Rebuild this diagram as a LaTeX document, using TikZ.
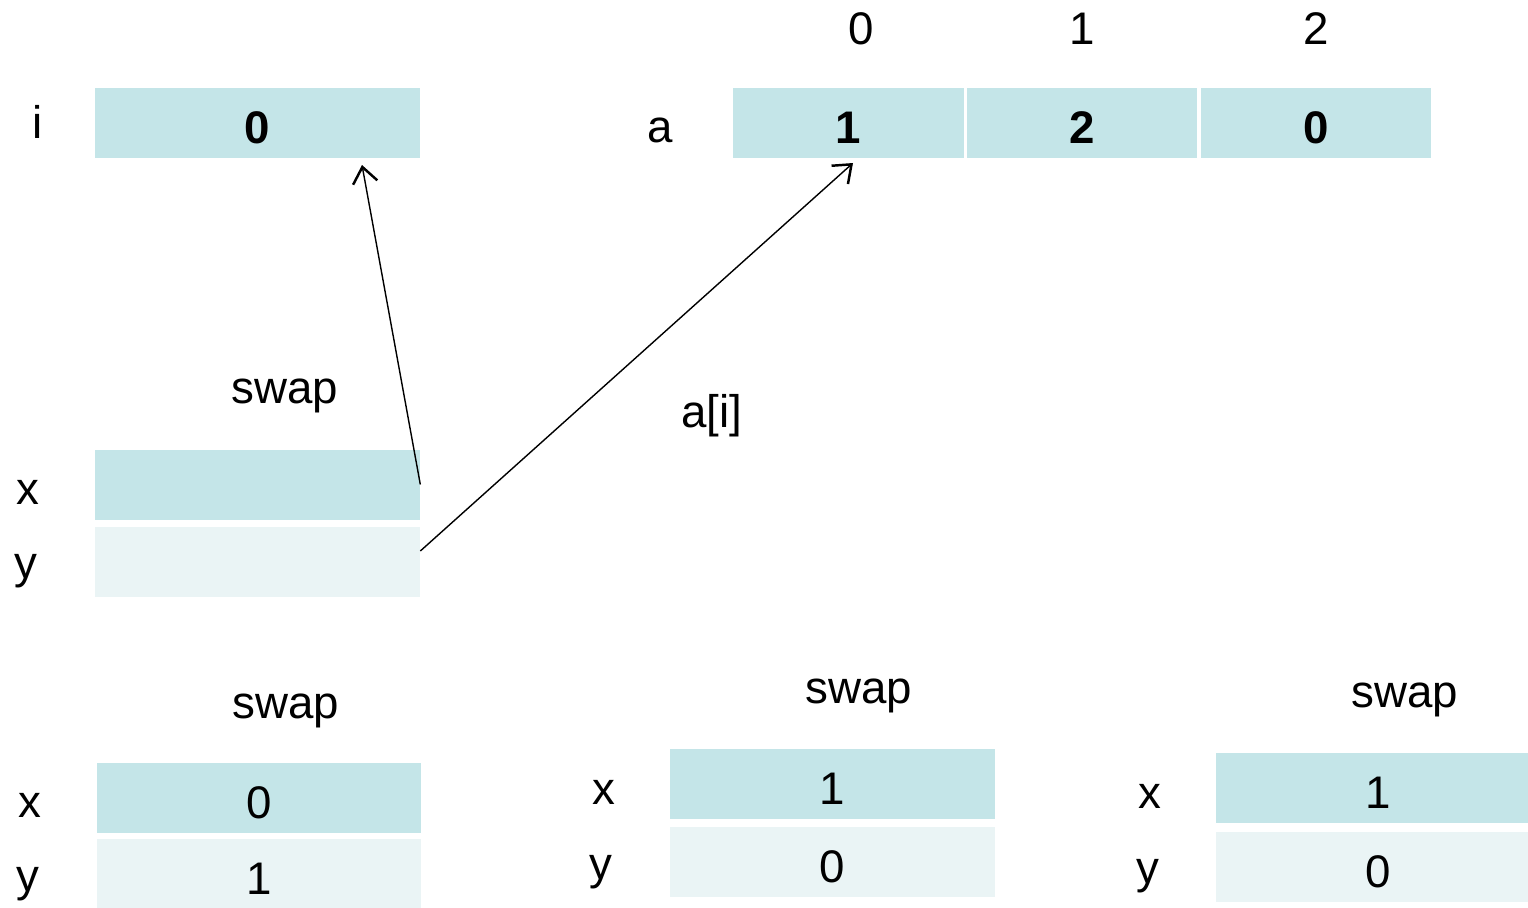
\documentclass[tikz,border=0pt]{standalone}
\usepackage{fontspec}
\setmainfont{Liberation Sans}
\usepackage{xcolor}
\usetikzlibrary{arrows.meta}
\definecolor{celldark}{HTML}{C4E5E8}
\definecolor{celllight}{HTML}{EAF4F5}
\tikzset{
  cell/.style={fill=celldark, minimum width=6.5cm, minimum height=1.4cm, inner sep=0pt, text height=23.4pt, text depth=0pt},
  lcell/.style={cell, fill=celllight},
  acell/.style={cell, minimum width=4.62cm, font=\fontsize{26}{30}\selectfont\bfseries},
  lbl/.style={inner sep=0pt},
  ptr/.style={-{Straight Barb[length=9pt,width=14pt,line width=1.4pt]}, line width=0.8pt},
}
\begin{document}
\begin{tikzpicture}[x=0.02cm,y=-0.02cm,font=\fontsize{26}{30}\selectfont]
        \useasboundingbox (0,0) rectangle (1528,907);

        % variable i
        \node[lbl] (il) at (38,122) {i};
        \node[cell, font=\fontsize{26}{30}\selectfont\bfseries] (ibox) at (257.5,123) {0};

        % array a
        \node[lbl] (al) at (660,130) {a};
        \node[acell] (a0) at (848.5,123) {1};
        \node[acell] (a1) at (1082,123) {2};
        \node[acell] (a2) at (1316,123) {0};
        \node[lbl] (n0) at (861,29) {0};
        \node[lbl] (n1) at (1082,29) {1};
        \node[lbl] (n2) at (1316,29) {2};

        % first call of swap
        \node[lbl] (s1) at (285,396) {swap};
        \node[cell] (x1) at (257.5,484.5) {};
        \node[lcell] (y1) at (257.5,562) {};
        \node[lbl] (x1l) at (28,492) {x};
        \node[lbl] (y1l) at (26,571) {y};
        \node[lbl] (ai) at (712,416) {a[i]};

        \coordinate (itip) at (362,165);
        \coordinate (atip) at (853,163);
        \draw[ptr] (x1.east) -- (itip);
        \draw[ptr] ([yshift=0.22cm]y1.east) -- (atip);

        % swap, three steps
        \node[lbl] (s2) at (286,711) {swap};
        \node[cell] (x2) at (259,797.5) {0};
        \node[lcell] (y2) at (259,874) {1};
        \node[lbl] (x2l) at (30,805) {x};
        \node[lbl] (y2l) at (28,884) {y};

        \node[lbl] (s3) at (859,696) {swap};
        \node[cell] (x3) at (832.5,783.5) {1};
        \node[lcell] (y3) at (832.5,862) {0};
        \node[lbl] (x3l) at (604,792) {x};
        \node[lbl] (y3l) at (601,872) {y};

        \node[lbl] (s4) at (1405,700) {swap};
        \node[cell] (x4) at (1378.5,788) {1};
        \node[lcell] (y4) at (1378.5,866.5) {0};
        \node[lbl] (x4l) at (1150,796) {x};
        \node[lbl] (y4l) at (1148,876) {y};
\end{tikzpicture}
\end{document}
